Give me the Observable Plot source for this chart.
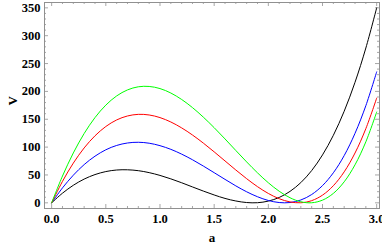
<!DOCTYPE html>
<html>
<head>
<meta charset="utf-8">
<script src="https://cdn.jsdelivr.net/npm/d3@7"></script>
<script src="https://cdn.jsdelivr.net/npm/@observablehq/plot@0.6"></script>
<style>
  html, body { margin: 0; padding: 0; background: #fff; }
  #chart svg { display: block; }
</style>
</head>
<body>
<div id="chart"></div>
<script>
const aValues = [0,0.1,0.2,0.3,0.4,0.5,0.6,0.7,0.8,0.9,1.0,1.1,1.2,1.3,1.4,1.5,1.6,1.7,1.8,1.9,2.0,2.1,2.2,2.3,2.4,2.5,2.6,2.7,2.8,2.9,3.0];
const blackV = [0,17.3,31.5,42.6,50.7,56.1,58.9,59.3,57.7,54.2,49.2,43.0,36.0,28.5,21.1,14.1,7.9,3.3,0.5,0.2,3.1,9.6,20.5,36.3,57.9,86.0,121.2,164.4,216.3,277.9,350.0];
const blueV  = [0,26.8,49.6,68.6,83.7,95.2,103.0,107.4,108.7,107.0,102.6,96.0,87.4,77.3,66.0,54.1,42.1,30.4,19.8,10.9,4.2,0.5,0.5,5.1,14.9,30.9,53.9,84.8,124.7,174.4,235.1];
const redV   = [0,38.5,71.3,98.5,120.3,137.0,148.8,155.9,158.8,157.7,153.0,145.1,134.5,121.7,107.2,91.5,75.2,58.9,43.3,29.0,16.8,7.4,1.6,0.1,3.9,13.8,30.7,55.6,89.4,133.2,188.0];
const greenV = [0,48.1,89.5,124.4,153.0,175.4,191.9,202.7,208.3,208.9,205.1,197.1,185.5,170.9,153.8,134.9,114.7,93.9,73.4,53.8,36.0,20.8,9.1,1.9,0.1,4.8,16.9,37.7,68.2,109.5,163.0];
const seriesNames = ["curve 1", "curve 2", "curve 3", "curve 4"];
const seriesColors = ["#000000", "#0000ff", "#ff0000", "#00ff00"];
const seriesValues = [blackV, blueV, redV, greenV];
const xMajor = [0, 0.5, 1.0, 1.5, 2.0, 2.5, 3.0];
const xMajorLabels = ["0.0", "0.5", "1.0", "1.5", "2.0", "2.5", "3.0"];
const xMinor = [0.1,0.2,0.3,0.4,0.6,0.7,0.8,0.9,1.1,1.2,1.3,1.4,1.6,1.7,1.8,1.9,2.1,2.2,2.3,2.4,2.6,2.7,2.8,2.9];
const yMajor = [0, 50, 100, 150, 200, 250, 300, 350];
const yMajorLabels = ["0", "50", "100", "150", "200", "250", "300", "350"];
const yMinor = [10,20,30,40,60,70,80,90,110,120,130,140,160,170,180,190,210,220,230,240,260,270,280,290,310,320,330,340];

const rows = [];
seriesValues.forEach((vals, si) => {
  vals.forEach((v, i) => rows.push({series: seriesNames[si], a: aValues[i], V: v}));
});

const W = 382, H = 248;
const mL = 44, mR = 3, mT = 2, mB = 40;
const pw = W - mL - mR, ph = H - mT - mB;
const majorLen = 4, minorLen = 2;
const tickColor = "#909090";
const font = "'Liberation Serif', 'Times New Roman', serif";

const tickMarks = (vals, len) => [
  Plot.tickX(vals, {x: d => d, insetTop: ph - len, stroke: tickColor, strokeWidth: 0.8}),
  Plot.tickX(vals, {x: d => d, insetBottom: ph - len, stroke: tickColor, strokeWidth: 0.8}),
];
const tickMarksY = (vals, len) => [
  Plot.tickY(vals, {y: d => d, insetRight: pw - len, stroke: tickColor, strokeWidth: 0.8}),
  Plot.tickY(vals, {y: d => d, insetLeft: pw - len, stroke: tickColor, strokeWidth: 0.8}),
];

const chart = Plot.plot({
  width: W, height: H,
  marginLeft: mL, marginRight: mR, marginTop: mT, marginBottom: mB,
  style: {fontFamily: font, background: "#fff"},
  x: {domain: [-0.066, 3.026], axis: null},
  y: {domain: [-10.2, 359.6], axis: null},
  color: {type: "ordinal", domain: seriesNames, range: seriesColors},
  marks: [
    ...tickMarks(xMajor, majorLen),
    ...tickMarks(xMinor, minorLen),
    ...tickMarksY(yMajor, majorLen),
    ...tickMarksY(yMinor, minorLen),
    Plot.line(rows, {x: "a", y: "V", z: "series", stroke: "series", strokeWidth: 1, curve: "catmull-rom"}),
    Plot.frame({stroke: tickColor, strokeWidth: 1}),
    Plot.text(xMajor, {x: d => d, text: (d, i) => xMajorLabels[i], frameAnchor: "bottom", dy: 14, fontSize: 12.5, fontWeight: "bold", fill: "#000"}),
    Plot.text(yMajor, {y: d => d, text: (d, i) => yMajorLabels[i], frameAnchor: "left", dx: -4, textAnchor: "end", fontSize: 12.5, fontWeight: "bold", fill: "#000"}),
    Plot.text(["a"], {frameAnchor: "bottom", dy: 33.5, fontSize: 13, fontWeight: "bold", fill: "#000"}),
    Plot.text(["V"], {frameAnchor: "left", dx: -32, rotate: -90, fontSize: 13, fontWeight: "bold", fill: "#000"})
  ]
});
document.getElementById("chart").appendChild(chart);
</script>
</body>
</html>
